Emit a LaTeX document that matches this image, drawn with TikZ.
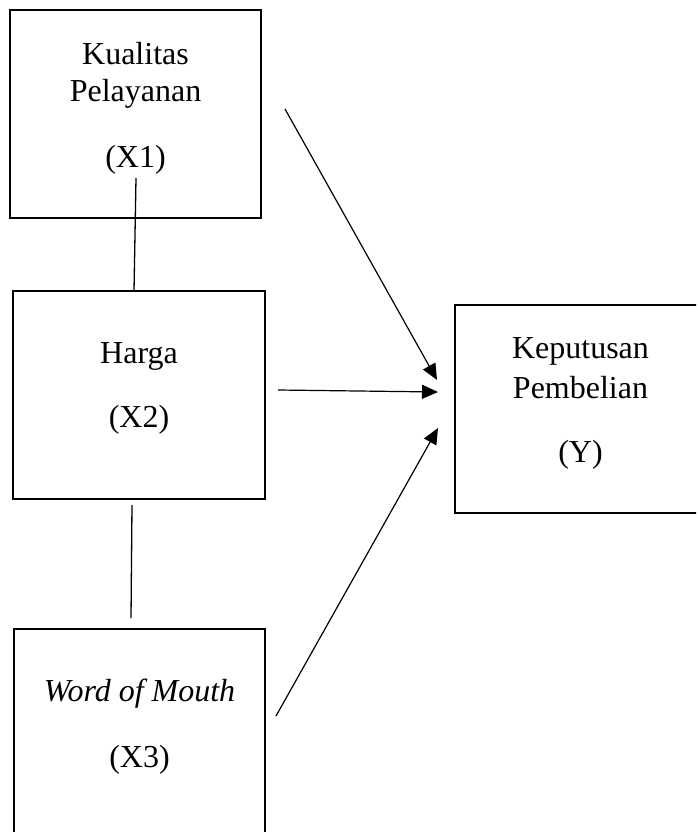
\documentclass[tikz,border=0pt]{standalone}
\usepackage{fontspec}
\setmainfont{Liberation Serif}
\usetikzlibrary{arrows.meta, calc}
\tikzset{
    >={Triangle[length=16pt,width=14pt]},
    % Shapes
    varbox/.style={rectangle, draw, line width=2.6pt, minimum width=251pt,
                   minimum height=208pt, inner sep=0pt, outer sep=0pt, anchor=north west},
    txt/.style={anchor=base, inner sep=0pt, font=\fontsize{32}{38}\selectfont},
    % Lines
    link/.style={line width=1.3pt},
    flow/.style={->, line width=1.2pt}
}
\begin{document}
\begin{tikzpicture}[x=1pt, y=-1pt]
\useasboundingbox (0,0) rectangle (696,832);
\clip (0,0) rectangle (696,832);

\node[varbox] (x1) at (10,10) {};
\node[varbox, minimum width=252pt] (x2) at (13,291) {};
\node[varbox] (x3) at (14,629) {};
\node[varbox] (y) at (455,305) {};

\node[txt] (x1a) at ($(x1.north)+(0,55)$) {Kualitas};
\node[txt] (x1b) at ($(x1.north)+(0,92)$) {Pelayanan};
\node[txt] (x1c) at ($(x1.north)+(0,157)$) {(X1)};
\node[txt] (x2a) at ($(x2.north)+(0,72)$) {Harga};
\node[txt] (x2b) at ($(x2.north)+(0,136)$) {(X2)};
\node[txt] (x3a) at ($(x3.north)+(0,72)$) {\textit{Word of Mouth}};
\node[txt] (x3b) at ($(x3.north)+(0,138)$) {(X3)};
\node[txt] (ya) at ($(y.north)+(0,53)$) {Keputusan};
\node[txt] (yb) at ($(y.north)+(0,93)$) {Pembelian};
\node[txt] (yc) at ($(y.north)+(0,157)$) {(Y)};

\draw[link] ($(x1.south)+(0.5,-40)$) -- ($(x2.north)+(-5,0)$);
\draw[link] ($(x2.south)+(-7,6)$) -- ($(x3.north)+(-8.5,-11)$);

\draw[flow] ($(x1.east)+(24,-5)$) -- ($(y.west)+(-18,-29)$);
\draw[flow] ($(x2.east)+(13,-5)$) -- ($(y.west)+(-17,-17)$);
\draw[flow] ($(x3.east)+(11,-17)$) -- ($(y.west)+(-17,19)$);

\end{tikzpicture}
\end{document}
